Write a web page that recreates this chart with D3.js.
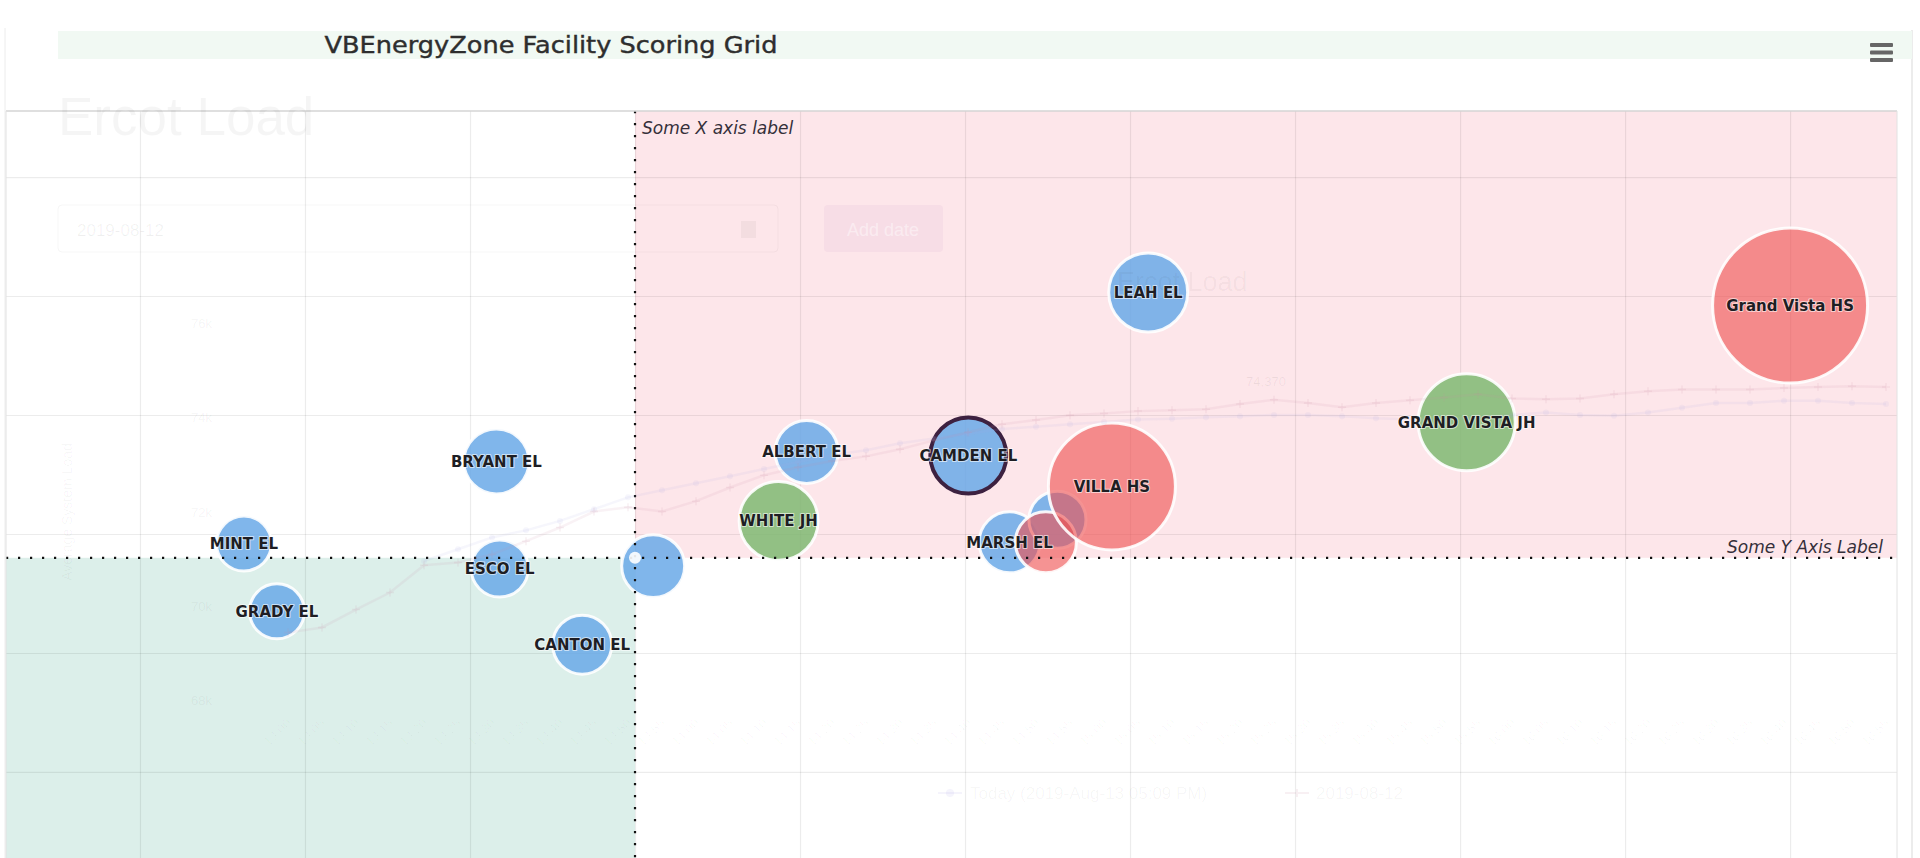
<!DOCTYPE html>
<html>
<head>
<meta charset="utf-8">
<title>VBEnergyZone Facility Scoring Grid</title>
<script src="https://cdn.jsdelivr.net/npm/d3@7"></script>
<style>
  html, body { margin: 0; padding: 0; background: #fff; overflow: hidden; }
  svg { display: block; }
</style>
</head>
<body>
<svg id="chart" width="1920" height="858"></svg>
<script>
// ---- bubble data (score grid) ----
var facilities = ["MINT EL", "GRADY EL", "BRYANT EL", "ESCO EL", "CANTON EL", "", "ALBERT EL",
                  "CAMDEN EL", "LEAH EL", "MARSH EL", "",
                  "WHITE JH", "GRAND VISTA JH",
                  "", "VILLA HS", "Grand Vista HS"];
var facilityType = ["EL", "EL", "EL", "EL", "EL", "EL", "EL",
                    "EL", "EL", "EL", "EL",
                    "JH", "JH",
                    "HS", "HS", "HS"];
var scoreX = [16.3, 18.3, 31.6, 31.8, 36.8, 41.1, 50.4,
              60.2, 71.1, 62.7, 65.6,
              48.7, 90.4,
              64.9, 68.9, 110.0];
var scoreY = [69.2, 63.5, 76.1, 67.1, 60.7, 67.3, 76.9,
              76.6, 90.3, 69.3, 71.2,
              71.1, 79.4,
              69.3, 74.0, 89.2];
var bubbleSize = [12.4, 12.4, 17.4, 13.4, 14.3, 16.3, 16.3,
                  23.7, 25.6, 15.3, 13.4,
                  25.6, 38.7,
                  15.3, 66.3, 98.7];
var selectedFacility = "CAMDEN EL";

var xTicks = [10, 20, 30, 40, 50, 60, 70, 80, 90, 100, 110];
var yTicks = [40, 50, 60, 70, 80, 90, 100];
var xThreshold = 40;
var yThreshold = 68;

// ---- faded underlying "Ercot Load" chart ----
var loadTimes = ["13:00", "13:05", "13:10", "13:15", "13:20", "13:25", "13:30", "13:35", "13:40", "13:45", "13:50", "13:55",
                 "14:00", "14:05", "14:10", "14:15", "14:20", "14:25", "14:30", "14:35", "14:40", "14:45", "14:50", "14:55",
                 "15:00", "15:05", "15:10", "15:15", "15:20", "15:25", "15:30", "15:35", "15:40", "15:45", "15:50", "15:55",
                 "16:00", "16:05", "16:10", "16:15", "16:20", "16:25", "16:30", "16:35", "16:40", "16:45", "16:50", "16:55"];
var loadPrev = [69.43, 69.54, 69.92, 70.28, 70.86, 70.92, 71.09, 71.37, 71.66, 72.0, 72.09, 72.0,
                72.22, 72.51, 72.77, 72.94, 73.07, 73.17, 73.32, 73.51, 73.68, 73.85, 73.94, 74.04,
                74.08, 74.13, 74.15, 74.17, 74.28, 74.37, 74.30, 74.21, 74.30, 74.36, 74.42, 74.49,
                74.40, 74.38, 74.40, 74.49, 74.55, 74.59, 74.59, 74.59, 74.62, 74.64, 74.66, 74.64];
var loadToday = [null, null, null, null, 70.95, 71.2, 71.45, 71.6, 71.8, 72.05, 72.3, 72.45,
                 72.6, 72.75, 72.9, 73.05, 73.2, 73.3, 73.45, 73.55, 73.65, 73.75, 73.8, 73.85,
                 73.9, 73.95, 73.97, 74.0, 74.02, 74.05, 74.05, 74.02, 73.98, 73.95, 73.95, 74.0,
                 74.05, 74.1, 74.05, 74.03, 74.1, 74.2, 74.3, 74.3, 74.35, 74.35, 74.3, 74.28];
var loadTicks = [68, 70, 72, 74, 76];

var typeColor = { EL: "#6aa9e8", JH: "#7fb872", HS: "#ef5050" };
var typeOpacity = { EL: 0.85, JH: 0.85, HS: 0.62 };

var svg = d3.select("#chart");
var plot = { left: 6, right: 1897, top: 111, bottom: 900 };

var x = d3.scaleLinear().domain([1.88, 116.48]).range([plot.left, plot.right]);
var y = d3.scaleLinear().domain([39.24, 105.55]).range([plot.bottom, plot.top]);
var r = d3.scaleSqrt().domain([0, 100]).range([0, 78]);

// container edges
svg.append("line").attr("x1", 5).attr("x2", 5).attr("y1", 28).attr("y2", 858)
  .attr("stroke", "#ececec");
svg.append("line").attr("x1", 1912).attr("x2", 1912).attr("y1", 30).attr("y2", 858)
  .attr("stroke", "#e6e6e6").attr("stroke-width", 1.5);

// title strip
svg.append("rect").attr("x", 58).attr("y", 31).attr("width", 1854).attr("height", 28)
  .attr("fill", "#f1f9f3");
svg.append("text")
  .attr("x", 551).attr("y", 53)
  .attr("text-anchor", "middle")
  .attr("textLength", 453)
  .attr("lengthAdjust", "spacingAndGlyphs")
  .style("font", "23px 'DejaVu Sans', sans-serif")
  .attr("fill", "#2e2e2e")
  .attr("stroke", "#2e2e2e")
  .attr("stroke-width", 0.4)
  .text("VBEnergyZone Facility Scoring Grid");

// menu icon
svg.append("g").selectAll("rect")
  .data([43, 50.5, 58])
  .enter().append("rect")
  .attr("x", 1870).attr("y", function(d) { return d; })
  .attr("width", 23).attr("height", 4).attr("rx", 1)
  .attr("fill", "#666");

svg.append("clipPath").attr("id", "plot-clip")
  .append("rect")
  .attr("x", plot.left).attr("y", plot.top)
  .attr("width", plot.right - plot.left).attr("height", plot.bottom - plot.top);

var g = svg.append("g").attr("clip-path", "url(#plot-clip)");

// quadrant bands
var bands = [
  { x0: xThreshold, x1: x.domain()[1], y0: yThreshold, y1: y.domain()[1], color: "#fde6ea" },
  { x0: x.domain()[0], x1: xThreshold, y0: y.domain()[0], y1: yThreshold, color: "#dcefea" }
];
g.selectAll("rect.band")
  .data(bands)
  .enter().append("rect")
  .attr("class", "band")
  .attr("x", function(b) { return x(b.x0); })
  .attr("y", function(b) { return y(b.y1); })
  .attr("width", function(b) { return x(b.x1) - x(b.x0); })
  .attr("height", function(b) { return y(b.y0) - y(b.y1); })
  .attr("fill", function(b) { return b.color; });

// grid
var gx = g.append("g")
  .attr("transform", "translate(0," + plot.bottom + ")")
  .call(d3.axisBottom(x).tickValues(xTicks).tickSize(-(plot.bottom - plot.top)).tickFormat(""));
gx.select(".domain").remove();
gx.selectAll("line").attr("stroke", "#000").attr("stroke-opacity", 0.075).attr("stroke-width", 1.2);

var gy = g.append("g")
  .attr("transform", "translate(" + plot.left + ",0)")
  .call(d3.axisLeft(y).tickValues(yTicks).tickSize(-(plot.right - plot.left)).tickFormat(""));
gy.select(".domain").remove();
gy.selectAll("line").attr("stroke", "#000").attr("stroke-opacity", 0.075).attr("stroke-width", 1.2);

// plot border
svg.append("line").attr("x1", plot.left).attr("x2", plot.right).attr("y1", plot.top).attr("y2", plot.top)
  .attr("stroke", "#d4d4d4").attr("stroke-width", 1.5);
svg.append("line").attr("x1", plot.left).attr("x2", plot.left).attr("y1", plot.top).attr("y2", 858)
  .attr("stroke", "#e2e2e2");
svg.append("line").attr("x1", plot.right).attr("x2", plot.right).attr("y1", plot.top).attr("y2", 858)
  .attr("stroke", "#e2e2e2");

// bubbles
var bubbles = facilities.map(function(name, i) {
  return { name: name, type: facilityType[i], sx: scoreX[i], sy: scoreY[i], z: bubbleSize[i] };
});

g.selectAll("circle.bubble")
  .data(bubbles)
  .enter().append("circle")
  .attr("class", "bubble")
  .attr("cx", function(d) { return x(d.sx); })
  .attr("cy", function(d) { return y(d.sy); })
  .attr("r", function(d) { return r(d.z); })
  .attr("fill", function(d) { return typeColor[d.type]; })
  .attr("fill-opacity", function(d) { return typeOpacity[d.type]; })
  .attr("stroke", function(d) { return d.name === selectedFacility ? "#3d2140" : "#fff"; })
  .attr("stroke-opacity", function(d) { return d.name === selectedFacility ? 1 : 0.9; })
  .attr("stroke-width", function(d) { return d.name === selectedFacility ? 4 : 3; });

// threshold lines
var dotted = "2.2 9.8";
g.append("line")
  .attr("x1", x(xThreshold)).attr("x2", x(xThreshold))
  .attr("y1", plot.top).attr("y2", plot.bottom)
  .attr("stroke", "#111").attr("stroke-width", 2.2).attr("stroke-dasharray", dotted);
g.append("line")
  .attr("x1", plot.left).attr("x2", plot.right)
  .attr("y1", y(yThreshold)).attr("y2", y(yThreshold))
  .attr("stroke", "#111").attr("stroke-width", 2.2).attr("stroke-dasharray", dotted);
g.append("circle")
  .attr("cx", x(xThreshold)).attr("cy", y(yThreshold)).attr("r", 6)
  .attr("fill", "#fff").attr("fill-opacity", 0.9);

svg.append("text")
  .attr("x", x(xThreshold) + 7).attr("y", plot.top + 23)
  .style("font", "italic 17px 'DejaVu Sans', sans-serif")
  .attr("fill", "#35303a")
  .text("Some X axis label");
svg.append("text")
  .attr("x", plot.right - 14).attr("y", y(yThreshold) - 5)
  .attr("text-anchor", "end")
  .style("font", "italic 17px 'DejaVu Sans', sans-serif")
  .attr("fill", "#35303a")
  .text("Some Y Axis Label");

// ---- faded overlay of the load chart ----
var ghost = svg.append("g").attr("pointer-events", "none");
var lx = d3.scaleLinear().domain([0, loadTimes.length - 1]).range([288, 1886]);
var ly = d3.scaleLinear().domain([68, 76]).range([700, 323]);

ghost.append("text").attr("x", 58).attr("y", 135)
  .style("font", "53px 'Liberation Sans', Arial, sans-serif")
  .attr("fill", "#000").attr("fill-opacity", 0.04)
  .text("Ercot Load");
ghost.append("rect").attr("x", 58).attr("y", 205).attr("width", 720).attr("height", 47).attr("rx", 4)
  .attr("fill", "none").attr("stroke", "#000").attr("stroke-opacity", 0.035);
ghost.append("text").attr("x", 77).attr("y", 236)
  .style("font", "17px 'Liberation Sans', Arial, sans-serif")
  .attr("fill", "#000").attr("fill-opacity", 0.06)
  .text("2019-08-12");
ghost.append("rect").attr("x", 741).attr("y", 221).attr("width", 15).attr("height", 17)
  .attr("fill", "#000").attr("fill-opacity", 0.04);
ghost.append("rect").attr("x", 824).attr("y", 205).attr("width", 119).attr("height", 47).attr("rx", 4)
  .attr("fill", "#8a3ca0").attr("fill-opacity", 0.05);
ghost.append("text").attr("x", 883).attr("y", 236).attr("text-anchor", "middle")
  .style("font", "18px 'Liberation Sans', Arial, sans-serif")
  .attr("fill", "#fff").attr("fill-opacity", 0.45)
  .text("Add date");
ghost.append("text").attr("x", 1117).attr("y", 291)
  .style("font", "27px 'Liberation Sans', Arial, sans-serif")
  .attr("fill", "#000").attr("fill-opacity", 0.04)
  .text("Ercot Load");

ghost.selectAll("text.ly")
  .data(loadTicks)
  .enter().append("text")
  .attr("class", "ly")
  .attr("x", 212).attr("y", function(d) { return ly(d) + 5; })
  .attr("text-anchor", "end")
  .style("font", "13px 'Liberation Sans', Arial, sans-serif")
  .attr("fill", "#000").attr("fill-opacity", 0.05)
  .text(function(d) { return d + "k"; });
ghost.append("text")
  .attr("transform", "translate(72,512) rotate(-90)")
  .attr("text-anchor", "middle")
  .style("font", "14px 'Liberation Sans', Arial, sans-serif")
  .attr("fill", "#000").attr("fill-opacity", 0.04)
  .text("Average System Load");

ghost.selectAll("text.lx")
  .data(loadTimes)
  .enter().append("text")
  .attr("class", "lx")
  .attr("transform", function(d, i) { return "translate(" + (lx(i) + 4) + ",724) rotate(-45)"; })
  .attr("text-anchor", "end")
  .style("font", "13px 'Liberation Sans', Arial, sans-serif")
  .attr("fill", "#000").attr("fill-opacity", 0.03)
  .text(function(d) { return d; });

var loadLine = d3.line()
  .defined(function(d) { return d !== null; })
  .x(function(d, i) { return lx(i); })
  .y(function(d) { return ly(d); });

ghost.append("path").datum(loadToday)
  .attr("d", loadLine)
  .attr("fill", "none").attr("stroke", "#a9a4e6").attr("stroke-opacity", 0.1).attr("stroke-width", 2.5);
ghost.append("path").datum(loadPrev)
  .attr("d", loadLine)
  .attr("fill", "none").attr("stroke", "#c98aa2").attr("stroke-opacity", 0.11).attr("stroke-width", 2.5);

ghost.selectAll("circle.today")
  .data(loadToday.map(function(v, i) { return { v: v, i: i }; }).filter(function(d) { return d.v !== null; }))
  .enter().append("circle")
  .attr("class", "today")
  .attr("cx", function(d) { return lx(d.i); })
  .attr("cy", function(d) { return ly(d.v); })
  .attr("r", 3)
  .attr("fill", "#a9a4e6").attr("fill-opacity", 0.1);
ghost.selectAll("path.prev")
  .data(loadPrev)
  .enter().append("path")
  .attr("class", "prev")
  .attr("d", function(v, i) {
    var cx = lx(i), cy = ly(v);
    return "M" + (cx - 4) + "," + cy + "H" + (cx + 4) + "M" + cx + "," + (cy - 4) + "V" + (cy + 4);
  })
  .attr("stroke", "#c98aa2").attr("stroke-opacity", 0.13).attr("stroke-width", 1.5);

var peak = d3.maxIndex(loadPrev.slice(0, 32));
ghost.append("text")
  .attr("x", lx(peak) - 8).attr("y", ly(loadPrev[peak]) - 14)
  .attr("text-anchor", "middle")
  .style("font", "13px 'Liberation Sans', Arial, sans-serif")
  .attr("fill", "#000").attr("fill-opacity", 0.06)
  .text(d3.format(",")(Math.round(loadPrev[peak] * 1000)));

// legend of the faded chart
ghost.append("line").attr("x1", 938).attr("x2", 962).attr("y1", 793).attr("y2", 793)
  .attr("stroke", "#a9a4e6").attr("stroke-opacity", 0.12).attr("stroke-width", 2);
ghost.append("circle").attr("cx", 950).attr("cy", 793).attr("r", 4)
  .attr("fill", "#a9a4e6").attr("fill-opacity", 0.12);
ghost.append("text").attr("x", 970).attr("y", 799)
  .style("font", "17px 'Liberation Sans', Arial, sans-serif")
  .attr("fill", "#000").attr("fill-opacity", 0.04)
  .text("Today (2019-Aug-13 05:09 PM)");
ghost.append("path").attr("d", "M1285,793H1309M1297,789V797")
  .attr("stroke", "#c98aa2").attr("stroke-opacity", 0.13).attr("stroke-width", 2);
ghost.append("text").attr("x", 1316).attr("y", 799)
  .style("font", "17px 'Liberation Sans', Arial, sans-serif")
  .attr("fill", "#000").attr("fill-opacity", 0.04)
  .text("2019-08-12");

// bubble labels, kept above the faded overlay
svg.append("g").attr("clip-path", "url(#plot-clip)")
  .selectAll("text.label")
  .data(bubbles.filter(function(d) { return d.name !== ""; }))
  .enter().append("text")
  .attr("class", "label")
  .attr("x", function(d) { return x(d.sx); })
  .attr("y", function(d) { return y(d.sy); })
  .attr("dy", "0.36em")
  .attr("text-anchor", "middle")
  .style("font", "bold 15px 'DejaVu Sans', sans-serif")
  .style("paint-order", "stroke")
  .attr("fill", "#1e1e24")
  .attr("stroke", "#fff")
  .attr("stroke-opacity", 0.6)
  .attr("stroke-width", 2)
  .attr("stroke-linejoin", "round")
  .text(function(d) { return d.name; });
</script>
</body>
</html>
